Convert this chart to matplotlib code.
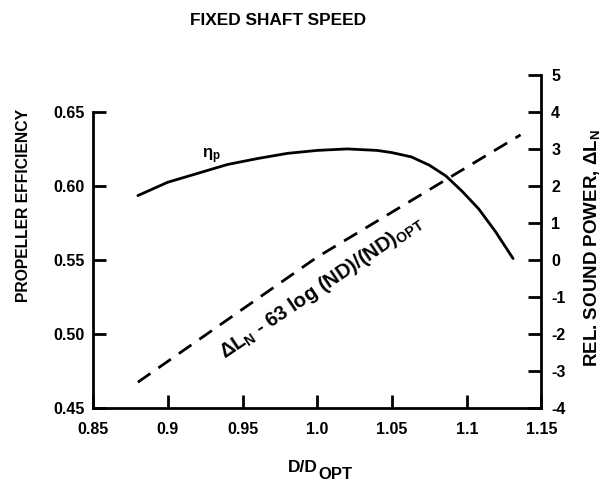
import matplotlib
matplotlib.use("Agg")
import matplotlib.pyplot as plt

plt.rcParams['font.family'] = ['Liberation Sans', 'DejaVu Sans']
plt.rcParams['font.weight'] = 'bold'
plt.rcParams['mathtext.fontset'] = 'custom'
plt.rcParams['mathtext.rm'] = 'Liberation Sans:bold'
plt.rcParams['mathtext.it'] = 'Liberation Sans:bold'
plt.rcParams['mathtext.bf'] = 'Liberation Sans:bold'

# data
d_ratio = [0.88, 0.90, 0.92, 0.94, 0.96, 0.98, 1.00, 1.02, 1.04, 1.05,
           1.063, 1.075, 1.086, 1.097, 1.108, 1.119, 1.131]
efficiency = [0.5935, 0.6025, 0.6085, 0.6145, 0.6185, 0.622, 0.624, 0.625,
              0.624, 0.6225, 0.6196, 0.614, 0.6068, 0.5963, 0.5845, 0.5695,
              0.551]

d_ratio_snd = [0.88, 1.00, 1.136]
sound_power = [-3.3, 0.08, 3.38]

xticks = [0.85, 0.9, 0.95, 1.0, 1.05, 1.1, 1.15]
xticklabels = ['0.85', '0.9', '0.95', '1.0', '1.05', '1.1', '1.15']
yticks_left = [0.45, 0.50, 0.55, 0.60, 0.65]
yticks_right = [-4, -3, -2, -1, 0, 1, 2, 3, 4, 5]

fig = plt.figure(figsize=(6.02, 4.83), dpi=100)
ax = fig.add_axes([0.1545, 0.155, 0.745, 0.69])
ax2 = ax.twinx()

ax.plot(d_ratio, efficiency, color='black', lw=2.0, solid_capstyle='round')
ax2.plot(d_ratio_snd, sound_power, color='black', lw=2.0, dashes=(5.5, 3.5))

ax.set_xlim(0.85, 1.15)
ax.set_ylim(0.45, 0.675)
ax2.set_ylim(-4, 5)

ax.set_xticks(xticks)
ax.set_xticklabels(xticklabels)
ax.set_yticks(yticks_left)
ax.set_yticklabels(['%.2f' % v for v in yticks_left])
ax2.set_yticks(yticks_right)
ax2.set_yticklabels([str(v) for v in yticks_right])

for a in (ax, ax2):
    a.spines['top'].set_visible(False)
    for s in a.spines.values():
        s.set_linewidth(2.0)
ax.spines['right'].set_visible(False)
ax2.spines['left'].set_visible(False)
ax2.spines['bottom'].set_visible(False)
ax.spines['left'].set_bounds(0.45, 0.65)

ax.tick_params(axis='both', direction='in', length=9.5, width=2.0,
               labelsize=11.5, pad=6)
ax.tick_params(axis='x', pad=10)
ax2.tick_params(axis='y', direction='in', length=9.5, width=2.0,
                labelsize=11.5, pad=7)

ax.text(0.929, 0.620, r'$\eta_p$', fontsize=12, ha='center', va='center')
ax2.text(1.003, -0.72, r'$\Delta L_N$ - 63 log (ND)/(ND)$_{OPT}$',
         fontsize=14.5, rotation=34, rotation_mode='anchor',
         ha='center', va='center')

fig.text(0.462, 0.958, 'FIXED SHAFT SPEED', fontsize=12.4, ha='center',
         va='center', fontweight='bold')
fig.text(0.039, 0.5756, 'PROPELLER EFFICIENCY', fontsize=11.3, rotation=90,
         ha='center', va='center', fontweight='bold')
fig.text(0.983, 0.487, r'REL. SOUND POWER, $\Delta L_N$', fontsize=13.5,
         rotation=90, ha='center', va='center', fontweight='bold')
fig.text(0.527, 0.032, 'D/D', fontsize=12.5, ha='right',
         va='center', fontweight='bold')
fig.text(0.529, 0.0166, 'OPT', fontsize=12, ha='left',
         va='center', fontweight='bold')

fig.savefig('out.png', dpi=100)
